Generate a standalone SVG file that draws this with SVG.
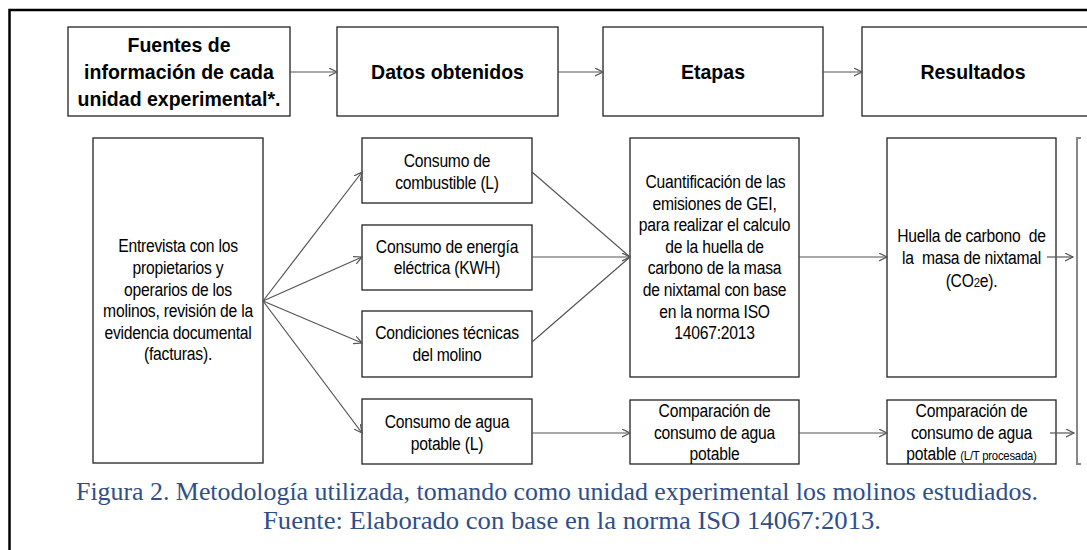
<svg xmlns="http://www.w3.org/2000/svg" width="1087" height="550" viewBox="0 0 1087 550">
<defs>
<marker id="arr" markerUnits="userSpaceOnUse" markerWidth="10" markerHeight="10" refX="8" refY="4" orient="auto">
<path d="M0,0 L8,4 L0,8" fill="none" stroke="#555" stroke-width="1.2"/>
</marker>
<style>
.box{fill:#fff;stroke:#222;stroke-width:1.3}
.h{font-family:"Liberation Sans",Arial,sans-serif;font-weight:bold;font-size:21px;fill:#000;text-anchor:middle}
.t{font-family:"Liberation Sans",Arial,sans-serif;font-size:18px;letter-spacing:-0.25px;fill:#000;text-anchor:middle}
.sm{font-size:13px}
.c{stroke:#555;stroke-width:1.2;fill:none}
.cap{font-family:"Liberation Serif","Times New Roman",serif;font-size:26px;fill:#2F4F8A}
</style>
</defs>
<rect width="1087" height="550" fill="#fff"/>
<path d="M1095,10 H9.5 V560" fill="none" stroke="#000" stroke-width="2.5"/>

<g id="n-fuentes"><rect class="box" x="68" y="27" width="222" height="89"/>
<g transform="matrix(0.93,0,0,1,12.53,0)">
<text class="h" x="179" y="52">Fuentes de</text>
<text class="h" x="179" y="79">información de cada</text>
<text class="h" x="179" y="106">unidad experimental*.</text></g></g>
<g id="n-datos"><rect class="box" x="337" y="27" width="221" height="89"/>
<text class="h" x="447.5" y="79" transform="matrix(0.93,0,0,1,31.325,0)">Datos obtenidos</text></g>
<g id="n-etapas"><rect class="box" x="603" y="27" width="220" height="89"/>
<text class="h" x="713" y="79" transform="matrix(0.93,0,0,1,49.91,0)">Etapas</text></g>
<g id="n-resultados"><rect class="box" x="862" y="27" width="240" height="89"/>
<text class="h" x="973" y="79" transform="matrix(0.93,0,0,1,68.11,0)">Resultados</text></g>

<g id="n-entrevista"><rect class="box" x="93" y="138" width="170" height="325"/>
<g transform="matrix(0.87,0,0,1,23.14,0)">
<text class="t" x="178" y="252.5">Entrevista con los</text>
<text class="t" x="178" y="274.1">propietarios y</text>
<text class="t" x="178" y="295.7">operarios de los</text>
<text class="t" x="178" y="317.3">molinos, revisión de la</text>
<text class="t" x="178" y="338.9">evidencia documental</text>
<text class="t" x="178" y="360.5">(facturas).</text></g></g>

<g id="n-combustible"><rect class="box" x="362" y="138" width="170" height="65"/>
<g transform="matrix(0.87,0,0,1,58.11,0)">
<text class="t" x="447" y="167">Consumo de</text>
<text class="t" x="447" y="189">combustible (L)</text></g></g>
<g id="n-energia"><rect class="box" x="362" y="225" width="170" height="65"/>
<g transform="matrix(0.87,0,0,1,58.11,0)">
<text class="t" x="447" y="253">Consumo de energía</text>
<text class="t" x="447" y="274.5">eléctrica (KWH)</text></g></g>
<g id="n-condiciones"><rect class="box" x="362" y="311" width="170" height="66"/>
<g transform="matrix(0.87,0,0,1,58.11,0)">
<text class="t" x="447" y="339">Condiciones técnicas</text>
<text class="t" x="447" y="361">del molino</text></g></g>
<g id="n-agua"><rect class="box" x="362" y="399" width="170" height="65"/>
<g transform="matrix(0.87,0,0,1,58.11,0)">
<text class="t" x="447" y="428">Consumo de agua</text>
<text class="t" x="447" y="450">potable (L)</text></g></g>

<g id="n-cuantificacion"><rect class="box" x="630" y="138" width="169" height="239"/>
<g transform="matrix(0.87,0,0,1,92.885,0)">
<text class="t" x="715.6" y="188">Cuantificación de las</text>
<text class="t" x="714.5" y="209.6">emisiones de GEI,</text>
<text class="t" x="714.5" y="231.2">para realizar el calculo</text>
<text class="t" x="714.5" y="252.8">de la huella de</text>
<text class="t" x="714.5" y="274.4">carbono de la masa</text>
<text class="t" x="714.5" y="296">de nixtamal con base</text>
<text class="t" x="714.5" y="317.6">en la norma ISO</text>
<text class="t" x="714.5" y="339.2">14067:2013</text></g></g>
<g id="n-comparacion1"><rect class="box" x="630" y="400" width="169" height="64"/>
<g transform="matrix(0.87,0,0,1,92.885,0)">
<text class="t" x="714.5" y="417">Comparación de</text>
<text class="t" x="714.5" y="439">consumo de agua</text>
<text class="t" x="714.5" y="460">potable</text></g></g>

<g id="n-huella"><rect class="box" x="887" y="138" width="169" height="239"/>
<g transform="matrix(0.87,0,0,1,126.295,0)">
<text class="t" x="971.5" y="242" xml:space="preserve">Huella de carbono  de</text>
<text class="t" x="971.5" y="264" xml:space="preserve">la  masa de nixtamal</text>
<text class="t" x="971.5" y="287">(CO<tspan class="sm">2</tspan>e).</text></g></g>
<g id="n-comparacion2"><rect class="box" x="887" y="400" width="169" height="64"/>
<g transform="matrix(0.87,0,0,1,126.295,0)">
<text class="t" x="971.5" y="417">Comparación de</text>
<text class="t" x="971.5" y="439">consumo de agua</text>
<text class="t" x="971.5" y="460">potable <tspan class="sm">(L/T procesada)</tspan></text></g></g>

<g id="n-cut"><path d="M1081,138 H1077 V464 H1081" fill="none" stroke="#888" stroke-width="2"/></g>

<g id="connectors">
<line class="c" x1="290" y1="72" x2="337" y2="72" marker-end="url(#arr)"/>
<line class="c" x1="558" y1="72" x2="603" y2="72" marker-end="url(#arr)"/>
<line class="c" x1="823" y1="72" x2="862" y2="72" marker-end="url(#arr)"/>
<line class="c" x1="263" y1="301" x2="362" y2="172" marker-end="url(#arr)"/>
<line class="c" x1="263" y1="301" x2="362" y2="257" marker-end="url(#arr)"/>
<line class="c" x1="263" y1="301" x2="362" y2="343" marker-end="url(#arr)"/>
<line class="c" x1="263" y1="301" x2="362" y2="433" marker-end="url(#arr)"/>
<line class="c" x1="532" y1="172" x2="630" y2="257"/>
<line class="c" x1="532" y1="342" x2="630" y2="257"/>
<line class="c" x1="532" y1="257" x2="630" y2="257" marker-end="url(#arr)"/>
<line class="c" x1="532" y1="433" x2="630" y2="433" marker-end="url(#arr)"/>
<line class="c" x1="799" y1="257" x2="887" y2="257" marker-end="url(#arr)"/>
<line class="c" x1="799" y1="433" x2="887" y2="433" marker-end="url(#arr)"/>
<line class="c" x1="1047" y1="257" x2="1073" y2="257" marker-end="url(#arr)"/>
<line class="c" x1="1050" y1="433" x2="1074" y2="433" marker-end="url(#arr)"/>
</g>

<text class="cap" x="76" y="500" textLength="962" lengthAdjust="spacingAndGlyphs">Figura 2. Metodología utilizada, tomando como unidad experimental los molinos estudiados.</text>
<text class="cap" x="263" y="529" textLength="618" lengthAdjust="spacingAndGlyphs">Fuente: Elaborado con base en la norma ISO 14067:2013.</text>
</svg>
